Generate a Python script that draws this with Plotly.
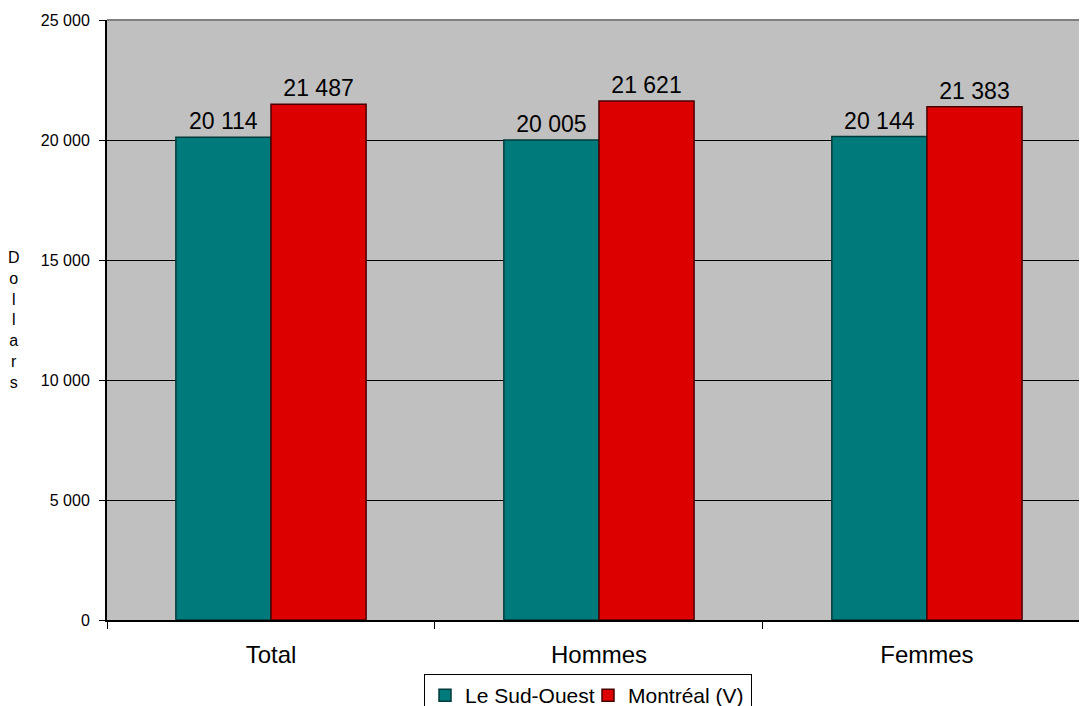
import plotly.graph_objects as go

categories = ["Total", "Hommes", "Femmes"]
sud_ouest = [20114, 20005, 20144]
montreal = [21487, 21621, 21383]
series_names = ["Le Sud-Ouest", "Montréal (V)"]
y_ticks = [0, 5000, 10000, 15000, 20000, 25000]

FONT = "Liberation Sans, Arial, sans-serif"

# the page body has an 8px margin, so the figure is drawn from (8, 8)
W, H = 1079, 698

fig = go.Figure()
fig.add_trace(go.Bar(
    name=series_names[0], x=categories, y=sud_ouest,
    marker=dict(color="#007A7A", line=dict(color="#003A3A", width=1.5)),
    texttemplate="%{y:,}", textposition="outside", cliponaxis=False,
    textfont=dict(size=23, color="black", family=FONT),
))
fig.add_trace(go.Bar(
    name=series_names[1], x=categories, y=montreal,
    marker=dict(color="#DD0000", line=dict(color="#4A0000", width=1.5)),
    texttemplate="%{y:,}", textposition="outside", cliponaxis=False,
    textfont=dict(size=23, color="black", family=FONT),
))

fig.update_layout(
    width=W, height=H,
    margin=dict(l=99, r=0, t=12, b=86),
    paper_bgcolor="white", plot_bgcolor="#C0C0C0",
    separators=", ",
    barmode="group", bargap=0.42, bargroupgap=0,
    font=dict(family=FONT, color="black"),
    showlegend=True,
    legend=dict(
        orientation="h", xref="container", yref="container",
        x=416 / W, xanchor="left", y=1 - 666 / H, yanchor="top",
        bgcolor="white", bordercolor="black", borderwidth=1,
        font=dict(size=21, family=FONT), entrywidth=118, itemwidth=30,
        traceorder="normal",
    ),
    xaxis=dict(
        range=[-0.5, 2.488], showline=True, linecolor="black", linewidth=2,
        ticks="outside", tickson="boundaries", ticklen=7, tickcolor="black",
        tickfont=dict(size=24, family=FONT), showgrid=False,
        ticklabelstandoff=12,
    ),
    yaxis=dict(
        range=[0, 25000], tickvals=y_ticks, tickformat=",",
        showline=True, linecolor="black", linewidth=2, mirror=False,
        ticks="outside", ticklen=6, tickcolor="black",
        tickfont=dict(size=16, family=FONT),
        showgrid=True, gridcolor="black", gridwidth=1, zeroline=False,
        ticklabelstandoff=6,
    ),
    annotations=[dict(
        text="D<br>o<br>l<br>l<br>a<br>r<br>s", xref="paper", yref="paper",
        x=(6 - 99) / 980, y=0.5, xanchor="center", yanchor="middle",
        showarrow=False, font=dict(size=16, family=FONT), align="center",
    )],
    shapes=[dict(type="line", xref="paper", yref="paper", x0=0, x1=1, y0=1, y1=1,
                 line=dict(color="#808080", width=2))],
)

fig.write_html("out.html")
